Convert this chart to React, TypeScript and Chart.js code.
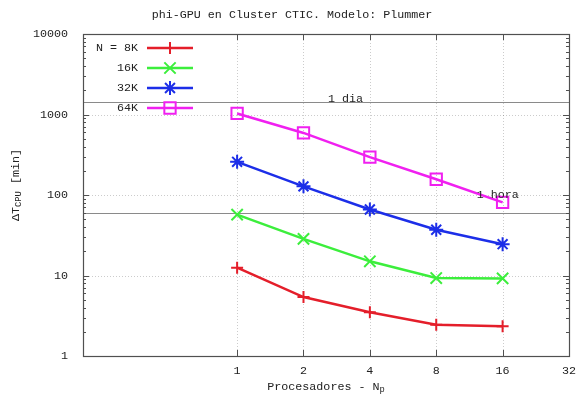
import React, { useEffect, useRef } from 'react';
import { Chart, registerables } from 'chart.js';

Chart.register(...registerables);

const chartTitle = 'phi-GPU en Cluster CTIC. Modelo: Plummer';
const processors = [1, 2, 4, 8, 16];
const seriesLabels = ['N = 8K', '16K', '32K', '64K'];
const n8k = [12.5, 5.4, 3.5, 2.45, 2.35];
const n16k = [57, 28.5, 15, 9.3, 9.2];
const n32k = [258, 128, 66, 37, 24.5];
const n64k = [1030, 590, 295, 157, 81];
const seriesColors = ['#e41e2a', '#3cee3c', '#1c2ee8', '#f020f0'];
const seriesPoints = ['cross', 'crossRot', 'star', 'rect'];
const xTicks = [1, 2, 4, 8, 16, 32];
const yTicks = [1, 10, 100, 1000, 10000];
const refValues = [1440, 60];
const refLabels = ['1 dia', '1 hora'];
const refLabelX = [3.1, 15.2];
const refLabelY = [1550, 100];
const xTitleMain = 'Procesadores - N';
const xTitleSub = 'p';
const yTitleMain = '\u0394T';
const yTitleSub = 'CPU';
const yTitleRest = ' [min]';

const FONT = '"Liberation Mono", "DejaVu Sans Mono", monospace';
const FS = 11.7;
const TEXT = '#222';

function drawMarker(ctx: CanvasRenderingContext2D, style: string, x: number, y: number, r: number) {
  ctx.beginPath();
  if (style === 'cross' || style === 'star') {
    ctx.moveTo(x - r, y); ctx.lineTo(x + r, y);
    ctx.moveTo(x, y - r); ctx.lineTo(x, y + r);
  }
  if (style === 'crossRot' || style === 'star') {
    const o = r * Math.SQRT1_2;
    ctx.moveTo(x - o, y - o); ctx.lineTo(x + o, y + o);
    ctx.moveTo(x - o, y + o); ctx.lineTo(x + o, y - o);
  }
  if (style === 'rect') {
    const s = r * Math.SQRT1_2;
    ctx.rect(x - s, y - s, 2 * s, 2 * s);
  }
  ctx.stroke();
}

const pointRadius = [6, 8, 7, 8];

const decor = {
  id: 'decor',
  beforeDatasetsDraw(chart: any) {
    const { ctx, chartArea: a, scales } = chart;
    const x = scales.x, y = scales.y;
    ctx.save();
    ctx.lineWidth = 1;
    ctx.strokeStyle = 'rgba(0,0,0,0.2)';
    ctx.setLineDash([1, 2]);
    processors.forEach((v) => {
      const px = Math.round(x.getPixelForValue(v)) + 0.5;
      ctx.beginPath(); ctx.moveTo(px, a.top); ctx.lineTo(px, a.bottom); ctx.stroke();
    });
    yTicks.slice(1, -1).forEach((v) => {
      const py = Math.round(y.getPixelForValue(v)) + 0.5;
      ctx.beginPath(); ctx.moveTo(a.left, py); ctx.lineTo(a.right, py); ctx.stroke();
    });
    ctx.setLineDash([]);
    ctx.strokeStyle = '#8a8a8a';
    refValues.forEach((v) => {
      const py = Math.round(y.getPixelForValue(v)) + 0.5;
      ctx.beginPath(); ctx.moveTo(a.left, py); ctx.lineTo(a.right, py); ctx.stroke();
    });
    ctx.restore();
  },
  afterDatasetsDraw(chart: any) {
    const { ctx, chartArea: a, scales } = chart;
    const x = scales.x, y = scales.y;
    ctx.save();
    // frame
    ctx.strokeStyle = '#505050';
    ctx.lineWidth = 1.2;
    ctx.strokeRect(Math.round(a.left) + 0.5, Math.round(a.top) + 0.5, Math.round(a.right - a.left), Math.round(a.bottom - a.top));
    // ticks
    ctx.lineWidth = 1;
    ctx.beginPath();
    processors.forEach((v) => {
      const px = Math.round(x.getPixelForValue(v)) + 0.5;
      ctx.moveTo(px, a.bottom); ctx.lineTo(px, a.bottom - 6);
      ctx.moveTo(px, a.top); ctx.lineTo(px, a.top + 6);
    });
    yTicks.forEach((v, i) => {
      const py = Math.round(y.getPixelForValue(v)) + 0.5;
      ctx.moveTo(a.left, py); ctx.lineTo(a.left + 6, py);
      ctx.moveTo(a.right, py); ctx.lineTo(a.right - 6, py);
      if (i < yTicks.length - 1) {
        for (let m = 2; m <= 9; m++) {
          const pm = Math.round(y.getPixelForValue(v * m)) + 0.5;
          ctx.moveTo(a.left, pm); ctx.lineTo(a.left + 3, pm);
          ctx.moveTo(a.right, pm); ctx.lineTo(a.right - 3, pm);
        }
      }
    });
    ctx.stroke();

    ctx.fillStyle = TEXT;
    ctx.font = `${FS}px ${FONT}`;
    ctx.textBaseline = 'middle';
    // reference labels
    ctx.textAlign = 'center';
    refLabels.forEach((t, i) => {
      ctx.fillText(t, x.getPixelForValue(refLabelX[i]), y.getPixelForValue(refLabelY[i]));
    });
    // title
    ctx.fillText(chartTitle, 292, 15);

    // x title
    const small = `${FS * 0.75}px ${FONT}`;
    const big = `${FS}px ${FONT}`;
    ctx.textAlign = 'left';
    ctx.font = big;
    const w1 = ctx.measureText(xTitleMain).width;
    ctx.font = small;
    const w2 = ctx.measureText(xTitleSub).width;
    const cx = (a.left + a.right) / 2;
    let sx = cx - (w1 + w2) / 2;
    ctx.font = big;
    ctx.fillText(xTitleMain, sx, 387);
    ctx.font = small;
    ctx.fillText(xTitleSub, sx + w1, 390);

    // y title
    ctx.save();
    ctx.translate(16, 185);
    ctx.rotate(-Math.PI / 2);
    ctx.font = big;
    const a1 = ctx.measureText(yTitleMain).width;
    const a3 = ctx.measureText(yTitleRest).width;
    ctx.font = small;
    const a2 = ctx.measureText(yTitleSub).width;
    let s = -(a1 + a2 + a3) / 2;
    ctx.font = big;
    ctx.fillText(yTitleMain, s, 0);
    ctx.font = small;
    ctx.fillText(yTitleSub, s + a1, 3);
    ctx.font = big;
    ctx.fillText(yTitleRest, s + a1 + a2, 0);
    ctx.restore();

    // legend
    ctx.textAlign = 'right';
    ctx.font = big;
    chart.data.datasets.forEach((ds: any, i: number) => {
      const ly = 48 + i * 20;
      ctx.fillStyle = TEXT;
      ctx.fillText(ds.label, 138, ly);
      ctx.strokeStyle = ds.borderColor;
      ctx.lineWidth = 2.5;
      ctx.beginPath(); ctx.moveTo(147, ly); ctx.lineTo(193, ly); ctx.stroke();
      ctx.lineWidth = 2;
      drawMarker(ctx, ds.pointStyle, 170, ly, ds.pointRadius);
    });
    ctx.restore();
  },
};

export default function App() {
  const ref = useRef<HTMLCanvasElement>(null);
  useEffect(() => {
    document.body.style.margin = '0';
    const seriesValues = [n8k, n16k, n32k, n64k];
    const chart = new Chart(ref.current!, {
      type: 'line',
      data: {
        datasets: seriesValues.map((vals, i) => ({
          label: seriesLabels[i],
          data: processors.map((p, j) => ({ x: p, y: vals[j] })),
          borderColor: seriesColors[i],
          backgroundColor: 'transparent',
          pointBorderColor: seriesColors[i],
          pointBackgroundColor: 'transparent',
          borderWidth: 2.5,
          pointBorderWidth: 2,
          pointRadius: pointRadius[i],
          pointStyle: seriesPoints[i] as any,
          tension: 0,
        })),
      },
      options: {
        responsive: false,
        animation: false,
        events: [],
        layout: { padding: { left: 0, top: 34, right: 11, bottom: 0 } },
        plugins: { legend: { display: false }, title: { display: false }, tooltip: { enabled: false } },
        scales: {
          x: {
            type: 'logarithmic',
            min: 0.2,
            max: 32,
            afterBuildTicks: (s: any) => { s.ticks = xTicks.map((v) => ({ value: v })); },
            afterFit: (s: any) => { s.height = 43; },
            grid: { display: false, drawTicks: false },
            border: { display: false },
            ticks: {
              autoSkip: false,
              maxRotation: 0,
              padding: 8,
              color: TEXT,
              font: { family: FONT, size: FS },
              callback: (v: any) => String(v),
            },
          },
          y: {
            type: 'logarithmic',
            min: 1,
            max: 10000,
            afterBuildTicks: (s: any) => { s.ticks = yTicks.map((v) => ({ value: v })); },
            afterFit: (s: any) => { s.width = 83; },
            grid: { display: false, drawTicks: false },
            border: { display: false },
            ticks: {
              autoSkip: false,
              padding: 15,
              color: TEXT,
              font: { family: FONT, size: FS },
              callback: (v: any) => String(v),
            },
          },
        },
      },
      plugins: [decor],
    });
    return () => chart.destroy();
  }, []);
  return (
    <div style={{ width: 584, height: 399 }}>
      <canvas ref={ref} width={584} height={399} style={{ display: 'block' }} />
    </div>
  );
}
